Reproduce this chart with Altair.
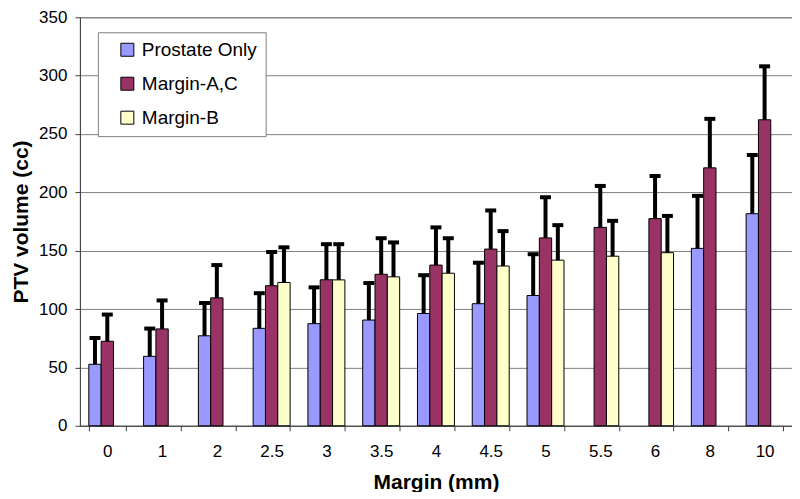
import altair as alt
import pandas as pd

categories = ["0", "1", "2", "2.5", "3", "3.5", "4", "4.5", "5", "5.5", "6", "8", "10"]
series = ["Prostate Only", "Margin-A,C", "Margin-B"]
colors = ["#9999FF", "#993366", "#FFFFCC"]

prostate_only = [52.7, 59.5, 77.1, 83.5, 87.5, 90.6, 96.2, 104.6, 111.6, None, None, 152.0, 181.7]
prostate_only_upper = [75.2, 83.3, 105.2, 113.6, 118.6, 122.3, 129.0, 139.7, 147.0, None, None, 197.0, 232.0]
margin_ac = [72.4, 83.0, 109.6, 120.0, 125.1, 129.8, 137.7, 151.4, 161.0, 170.0, 177.5, 221.0, 262.2]
margin_ac_upper = [95.3, 107.4, 137.7, 148.9, 155.6, 160.7, 170.0, 184.5, 195.8, 205.5, 214.0, 263.0, 308.0]
margin_b = [None, None, None, 122.8, 125.0, 127.6, 130.7, 136.9, 141.9, 145.3, 148.3, None, None]
margin_b_upper = [None, None, None, 152.9, 155.6, 157.1, 160.7, 166.8, 171.9, 175.6, 179.8, None, None]

y_ticks = [0, 50, 100, 150, 200, 250, 300, 350]

rows = []
for name, vals, ups in [
    (series[0], prostate_only, prostate_only_upper),
    (series[1], margin_ac, margin_ac_upper),
    (series[2], margin_b, margin_b_upper),
]:
    for c, v, u in zip(categories, vals, ups):
        if v is not None:
            rows.append({"margin": c, "series": name, "value": v, "upper": u})
df = pd.DataFrame(rows)

FONT = "Liberation Sans"

x_enc = alt.X(
    "margin:N",
    sort=categories,
    scale=alt.Scale(domain=categories, paddingInner=0.325, paddingOuter=0.1625),
    axis=alt.Axis(
        title="Margin (mm)",
        labelAngle=0,
        tickBand="extent",
        tickSize=5,
        labelFontSize=17,
        labelPadding=13,
        titleFontSize=21,
        titleFontWeight="bold",
        titlePadding=12,
        domainColor="#404040",
        tickColor="#404040",
        labelColor="black",
        titleColor="black",
        grid=False,
    ),
)
xoff_enc = alt.XOffset(
    "series:N",
    sort=series,
    scale=alt.Scale(domain=series, paddingInner=0, paddingOuter=0),
)

base = alt.Chart(df)

bars = base.mark_bar(stroke="black", strokeWidth=1).encode(
    x=x_enc,
    xOffset=xoff_enc,
    y=alt.Y(
        "value:Q",
        scale=alt.Scale(domain=[0, 350], nice=False),
        axis=alt.Axis(
            title="PTV volume (cc)",
            values=y_ticks,
            grid=True,
            gridColor="#808080",
            tickSize=5,
            labelFontSize=17,
            labelPadding=8,
            titleFontSize=21,
            titleFontWeight="bold",
            titlePadding=7,
            domainColor="#404040",
            tickColor="#404040",
            labelColor="black",
            titleColor="black",
        ),
    ),
    color=alt.Color(
        "series:N",
        scale=alt.Scale(domain=series, range=colors),
        legend=alt.Legend(
            title=None,
            orient="none",
            legendX=18,
            legendY=15,
            symbolType="square",
            symbolSize=169,
            symbolStrokeColor="black",
            symbolStrokeWidth=1,
            symbolOffset=12,
            labelFontSize=19,
            labelOffset=5,
            rowPadding=14,
            padding=8,
            strokeColor="#808080",
            fillColor="white",
            labelColor="black",
        ),
    ),
)

rules = base.mark_rule(color="black", strokeWidth=4).encode(
    x=x_enc,
    xOffset=xoff_enc,
    y="value:Q",
    y2="upper:Q",
)

caps = base.mark_tick(color="black", thickness=4, size=11, opacity=1).encode(
    x=x_enc,
    xOffset=xoff_enc,
    y="upper:Q",
)

chart = (
    alt.layer(bars, rules, caps)
    .properties(
        width=713,
        height=409,
        autosize=alt.AutoSizeParams(type="none"),
        padding={"left": 72, "top": 9, "right": 0, "bottom": 66},
    )
    .configure(font=FONT)
    .configure_view(stroke="#808080")
)

chart.save("out.html", embed_options={"renderer": "svg", "actions": False})
